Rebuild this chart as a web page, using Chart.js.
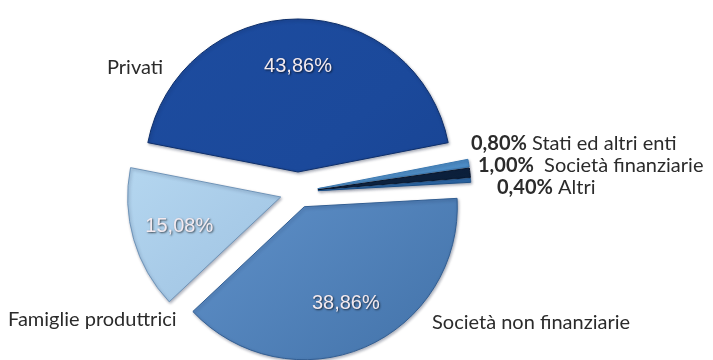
<!DOCTYPE html>
<html lang="it">
<head>
<meta charset="utf-8">
<title>Ripartizione per settore</title>
<script src="https://cdn.jsdelivr.net/npm/chart.js@4/dist/chart.umd.min.js"></script>
<style>
  html, body { margin: 0; padding: 0; background: #ffffff; }
  #wrap { width: 713px; height: 360px; }
</style>
</head>
<body>
<div id="wrap"><canvas id="pie" width="713" height="360"></canvas></div>
<script>
// Sectors, clockwise from the top slice
const categories = ['Privati', 'Stati ed altri enti', 'Società finanziarie', 'Altri', 'Società non finanziarie', 'Famiglie produttrici'];
const shares = [43.86, 0.80, 1.00, 0.40, 38.86, 15.08];

// Styling per slice
const explode = [20, 20, 20, 20, 16, 18];
const gradientStops = [
  ['#1d4c9f', '#1b499b', '#17418e'],
  ['#7ab6e4', '#5b9bd2', '#3f7fba'],
  ['#1d3a62', '#0f2644', '#081a33'],
  ['#4f8fcc', '#3674b4', '#24609e'],
  ['#71a1d7', '#5b8cc4', '#4676ad'],
  ['#bfe0f6', '#a8cbe8', '#94b9da']
];
const edgeColors = ['#0e2f6a', '#3a78b0', '#05142a', '#1c4f86', '#325e92', '#6f94b8'];

const fmtPct = v => v.toFixed(2).replace('.', ',') + '%';

// Start the first slice so that it is centred on the vertical axis
const rotationDeg = -shares[0] / 100 * 360 / 2;

// Move every slice outward along its mid-angle
const explodePlugin = {
  id: 'explodeSlices',
  afterDatasetUpdate(chart, args) {
    const meta = chart.getDatasetMeta(args.index);
    meta.data.forEach((arc, i) => {
      const mid = (arc.startAngle + arc.endAngle) / 2;
      arc.x += Math.cos(mid) * explode[i];
      arc.y += Math.sin(mid) * explode[i];
    });
  }
};

// Soft shadow under the slices
const shadowPlugin = {
  id: 'sliceShadow',
  beforeDatasetsDraw(chart) {
    const ctx = chart.ctx;
    ctx.save();
    ctx.shadowColor = 'rgba(20, 30, 60, 0.35)';
    ctx.shadowBlur = 3;
    ctx.shadowOffsetX = 1;
    ctx.shadowOffsetY = 1.5;
  },
  afterDatasetsDraw(chart) {
    chart.ctx.restore();
  }
};

// Percentages inside the large slices and the sector names around the pie
const innerLabelIdx = [0, 4, 5];
const outerNames = [
  { idx: 0, x: 107, y: 74 },
  { idx: 5, x: 8, y: 326 },
  { idx: 4, x: 432, y: 329 }
];
const smallNames = [
  { idx: 1, x: 471, y: 150, gap: ' ' },
  { idx: 2, x: 478, y: 172, gap: '  ' },
  { idx: 3, x: 497, y: 194, gap: ' ' }
];

const labelPlugin = {
  id: 'sliceLabels',
  afterDatasetsDraw(chart) {
    const ctx = chart.ctx;
    const arcs = chart.getDatasetMeta(0).data;
    ctx.save();
    // inside values
    ctx.font = '20px "Liberation Sans", Arial, sans-serif';
    ctx.textAlign = 'center';
    ctx.textBaseline = 'middle';
    innerLabelIdx.forEach(i => {
      const a = arcs[i];
      const mid = (a.startAngle + a.endAngle) / 2;
      const r = a.outerRadius * 0.69;
      const x = a.x + Math.cos(mid) * r;
      const y = a.y + Math.sin(mid) * r;
      ctx.shadowColor = 'rgba(0, 0, 0, 0.65)';
      ctx.shadowBlur = 2;
      ctx.shadowOffsetX = 1;
      ctx.shadowOffsetY = 1;
      ctx.fillStyle = '#f3eaef';
      ctx.fillText(fmtPct(shares[i]), x, y);
    });
    ctx.shadowColor = 'transparent';
    ctx.shadowBlur = 0;
    ctx.shadowOffsetX = 0;
    ctx.shadowOffsetY = 0;
    // names of the large sectors
    ctx.textAlign = 'left';
    ctx.textBaseline = 'alphabetic';
    ctx.fillStyle = '#2b2b2b';
    ctx.font = '20px Lato, "Open Sans", sans-serif';
    outerNames.forEach(n => ctx.fillText(categories[n.idx], n.x, n.y));
    // small sectors: bold value followed by the name
    smallNames.forEach(n => {
      ctx.font = 'bold 20px Lato, "Open Sans", sans-serif';
      const v = fmtPct(shares[n.idx]);
      ctx.fillText(v, n.x, n.y);
      const w = ctx.measureText(v).width;
      ctx.font = '20px Lato, "Open Sans", sans-serif';
      ctx.fillText(n.gap + categories[n.idx], n.x + w, n.y);
    });
    ctx.restore();
  }
};

function sliceFill(context) {
  const i = context.dataIndex;
  const ctx = context.chart.ctx;
  const s = gradientStops[i];
  const g = ctx.createLinearGradient(150, 20, 420, 340);
  g.addColorStop(0, s[0]);
  g.addColorStop(0.5, s[1]);
  g.addColorStop(1, s[2]);
  return g;
}

new Chart(document.getElementById('pie'), {
  type: 'pie',
  data: {
    labels: categories,
    datasets: [{
      data: shares,
      backgroundColor: sliceFill,
      borderColor: edgeColors,
      borderWidth: 1,
      radius: 153
    }]
  },
  options: {
    responsive: false,
    animation: false,
    events: [],
    devicePixelRatio: 1,
    rotation: rotationDeg,
    layout: { padding: { left: 0, right: 117, top: 24, bottom: 0 } },
    plugins: {
      legend: { display: false },
      tooltip: { enabled: false }
    }
  },
  plugins: [explodePlugin, shadowPlugin, labelPlugin]
});
</script>
</body>
</html>
